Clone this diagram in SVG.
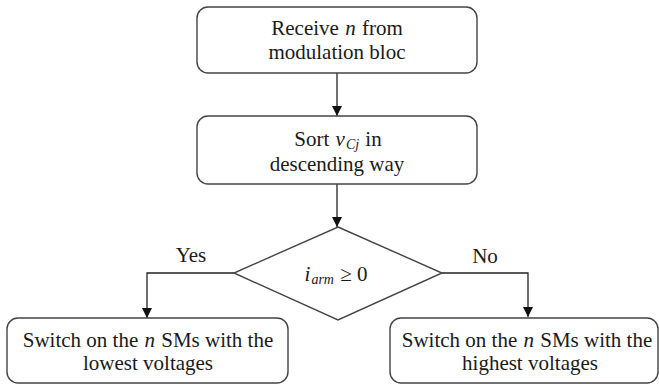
<svg xmlns="http://www.w3.org/2000/svg" width="659" height="384" viewBox="0 0 659 384">
<defs>
<style>
.box{fill:#fff;stroke:#444;stroke-width:1.4}
.ln{fill:none;stroke:#222;stroke-width:1.3}
.t{font-family:"Liberation Serif","Times New Roman",serif;font-size:21px;fill:#1a1a1a;text-anchor:middle}
.m{font-style:italic}
.s{font-style:italic;font-size:14px}
</style>
<marker id="ah" viewBox="0 0 10 10" refX="10" refY="5" markerWidth="10" markerHeight="10" markerUnits="userSpaceOnUse" orient="auto">
<path d="M0,0 L10,5 L0,10 Z" fill="#111"/>
</marker>
</defs>
<rect width="659" height="384" fill="#fff"/>
<g id="connectors">
<line class="ln" x1="337" y1="73" x2="337" y2="116" marker-end="url(#ah)"/>
<line class="ln" x1="337" y1="184" x2="337" y2="227" marker-end="url(#ah)"/>
<polyline class="ln" points="234,273 147,273 147,318" marker-end="url(#ah)"/>
<polyline class="ln" points="442,273 528,273 528,317" marker-end="url(#ah)"/>
<text class="t" x="191" y="262">Yes</text>
<text class="t" x="485" y="263">No</text>
</g>
<g id="receive">
<rect class="box" x="197" y="7" width="280" height="66" rx="11"/>
<text class="t" x="337" y="35">Receive <tspan class="m" dx="1">n</tspan><tspan dx="1"> from</tspan></text>
<text class="t" x="337" y="59">modulation bloc</text>
</g>
<g id="sort">
<rect class="box" x="197" y="116" width="280" height="68" rx="11"/>
<text class="t" x="338" y="146">Sort <tspan class="m" dx="1">v</tspan><tspan class="s" dx="1" dy="3">Cj</tspan><tspan dy="-3" dx="1"> in</tspan></text>
<text class="t" x="337" y="171">descending way</text>
</g>
<g id="decision">
<polygon class="box" points="338,227 442,273 338,320 234,273"/>
<text class="t" x="336" y="281"><tspan class="m">i</tspan><tspan class="s" dx="1" dy="3">arm</tspan><tspan dy="-3" dx="1"> ≥ 0</tspan></text>
</g>
<g id="lowest">
<rect class="box" x="7" y="318" width="281" height="65" rx="11"/>
<text class="t" x="148" y="347">Switch on the <tspan class="m" dx="1">n</tspan><tspan dx="1"> SMs with the</tspan></text>
<text class="t" x="148" y="370">lowest voltages</text>
</g>
<g id="highest">
<rect class="box" x="390" y="318" width="268" height="65" rx="11"/>
<text class="t" x="527" y="347">Switch on the <tspan class="m" dx="1">n</tspan><tspan dx="1"> SMs with the</tspan></text>
<text class="t" x="530" y="370">highest voltages</text>
</g>
</svg>
